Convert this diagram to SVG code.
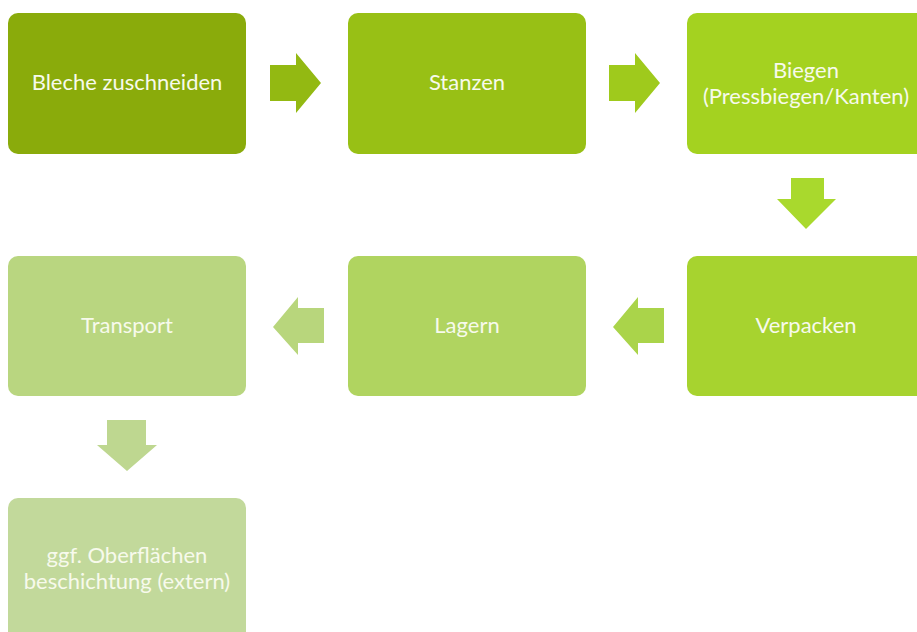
<svg xmlns="http://www.w3.org/2000/svg" width="917" height="632" viewBox="0 0 917 632">
<style>
.box{stroke:none}
.t{font-family:Lato,"Open Sans","Liberation Sans",sans-serif;font-size:22px;fill:#f7faec;text-anchor:middle}
</style>
<rect width="917" height="632" fill="#ffffff"/>
<g id="connectors">
<polygon points="270,65 296,65 296,53 321,83 296,113 296,101 270,101" fill="#93b912"/>
<polygon points="609,65 635,65 635,53 660,83 635,113 635,101 609,101" fill="#9fca1c"/>
<polygon points="791,178 824,178 824,199 836,199 806,229 777,199 791,199" fill="#a9d92d"/>
<polygon points="664,308 638,308 638,297 613,327 638,355 638,343 664,343" fill="#aad44a"/>
<polygon points="324,308 298,308 298,297 273,327 298,355 298,343 324,343" fill="#b8d67c"/>
<polygon points="107,420 146,420 146,445 157,445 127,471 97,445 107,445" fill="#bed790"/>
</g>
<g id="n1"><rect class="box" x="8" y="13" width="238" height="141" rx="10" fill="#8aab0b"/><text class="t" x="127" y="90">Bleche zuschneiden</text></g>
<g id="n2"><rect class="box" x="348" y="13" width="238" height="141" rx="10" fill="#98c015"/><text class="t" x="467" y="90">Stanzen</text></g>
<g id="n3"><rect class="box" x="687" y="13" width="250" height="141" rx="10" fill="#a4d220"/><text class="t" x="806" y="78">Biegen</text><text class="t" x="806" y="104">(Pressbiegen/Kanten)</text></g>
<g id="n4"><rect class="box" x="687" y="256" width="250" height="140" rx="10" fill="#a7d32f"/><text class="t" x="806" y="333">Verpacken</text></g>
<g id="n5"><rect class="box" x="348" y="256" width="238" height="140" rx="10" fill="#b0d460"/><text class="t" x="467" y="333">Lagern</text></g>
<g id="n6"><rect class="box" x="8" y="256" width="238" height="140" rx="10" fill="#b9d680"/><text class="t" x="127" y="333">Transport</text></g>
<g id="n7"><rect class="box" x="8" y="498" width="238" height="150" rx="10" fill="#c2d99b"/><text class="t" x="127" y="563">ggf. Oberflächen</text><text class="t" x="127" y="589">beschichtung (extern)</text></g>
</svg>
